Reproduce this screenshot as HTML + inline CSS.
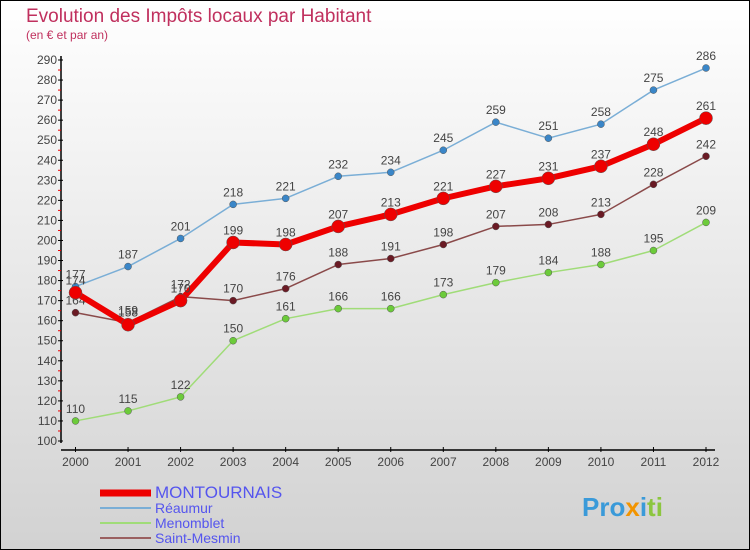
<!DOCTYPE html>
<html><head><meta charset="utf-8"><style>
html,body{margin:0;padding:0}
body{width:750px;height:550px;overflow:hidden;font-family:"Liberation Sans",sans-serif}
svg{display:block}
</style></head><body>
<svg id="c" width="750" height="550" xmlns="http://www.w3.org/2000/svg">
<defs><linearGradient id="bg" x1="0" y1="0" x2="0" y2="1"><stop offset="0" stop-color="#ffffff"/><stop offset="1" stop-color="#d2d2d2"/></linearGradient></defs>
<rect x="0.5" y="0.5" width="749" height="549" fill="url(#bg)" stroke="#000"/>
<text x="26" y="22" font-size="19" fill="#c0305e">Evolution des Impôts locaux par Habitant</text>
<text x="26" y="39" font-size="12" fill="#c0305e">(en € et par an)</text>
<g id="axes"></g><g id="series"></g><g id="legend"></g>
<text x="582" y="516" font-size="26" font-weight="bold" fill="#3a9ad9">Pro<tspan fill="#f29400">x</tspan><tspan fill="#3a9ad9">i</tspan><tspan fill="#8cc63f">ti</tspan></text>
</svg>
<script>
const years=[2000,2001,2002,2003,2004,2005,2006,2007,2008,2009,2010,2011,2012];
const yTicks=[100,110,120,130,140,150,160,170,180,190,200,210,220,230,240,250,260,270,280,290];
const montournais=[174,158,170,199,198,207,213,221,227,231,237,248,261];
const reaumur=[177,187,201,218,221,232,234,245,259,251,258,275,286];
const menomblet=[110,115,122,150,161,166,166,173,179,184,188,195,209];
const saintMesmin=[164,159,172,170,176,188,191,198,207,208,213,228,242];
const NS="http://www.w3.org/2000/svg";
const X=i=>75.5+i*(706-75.5)/(years.length-1);
const Y=v=>441-(v-100)*381/190;
function el(t,a,p){const e=document.createElementNS(NS,t);for(const k in a)e.setAttribute(k,a[k]);p.appendChild(e);return e;}
const ax=document.getElementById('axes');
let l=el('line',{x1:61,y1:56,x2:61,y2:443,stroke:'#000','stroke-width':1.5},ax);


l=el('line',{x1:61,y1:450,x2:715,y2:450,stroke:'#000','stroke-width':1.5},ax);


yTicks.forEach((v,i)=>{
  el('line',{x1:58,y1:Y(v),x2:63,y2:Y(v),stroke:'#000'},ax);
  if(i<yTicks.length-1)el('line',{x1:58,y1:Y(v+5),x2:61,y2:Y(v+5),stroke:'#e00'},ax);
  const t=el('text',{x:57,y:Y(v)+4,'font-size':12,fill:'#444','text-anchor':'end'},ax);t.textContent=v;
  
  
});
years.forEach((y,i)=>{
  el('line',{x1:X(i),y1:447,x2:X(i),y2:452,stroke:'#000'},ax);
  const t=el('text',{x:X(i),y:466,'font-size':12,fill:'#444','text-anchor':'middle'},ax);t.textContent=y;
  
  
});
const sg=document.getElementById('series');
function draw(d,name,color,dot,w,r){
  const g=el('g',{},sg);
  
  
  const p=el('polyline',{points:d.map((v,i)=>X(i)+','+Y(v)).join(' '),fill:'none',stroke:color,'stroke-width':w,'stroke-linejoin':'round'},g);
  
  
  d.forEach((v,i)=>{
    const c=el('circle',{cx:X(i),cy:Y(v),r:r,fill:dot,stroke:'#555','stroke-width':0.5},g);
    
    
    const t=el('text',{x:X(i),y:Y(v)-8,'font-size':12,fill:'#444','text-anchor':'middle'},g);t.textContent=v;
    
    
  });
}
draw(menomblet,'menomblet','#a0dc78','#6ccb3a',1.5,3.5);
draw(saintMesmin,'saint-mesmin','#8a4a4a','#6a1a24',1.5,3.5);
draw(reaumur,'reaumur','#7aaed6','#3a86c8',1.5,3.5);
draw(montournais,'montournais','#ee0000','#ee0000',6,6.5);
const lg=document.getElementById('legend');
const items=[['MONTOURNAIS','#ee0000',7,15],['Réaumur','#7aaed6',2,12],['Menomblet','#a0dc78',2,12],['Saint-Mesmin','#9a6060',2,12]];
items.forEach((it,i)=>{
  const y=493+i*15;
  el('line',{x1:100,y1:y,x2:151,y2:y,stroke:it[1],'stroke-width':it[2]},lg);
  const t=el('text',{x:155,y:y+5,'font-size':it[3]+2,fill:'#5555ee'},lg);t.textContent=it[0];
  
  
});
</script>
</body></html>
